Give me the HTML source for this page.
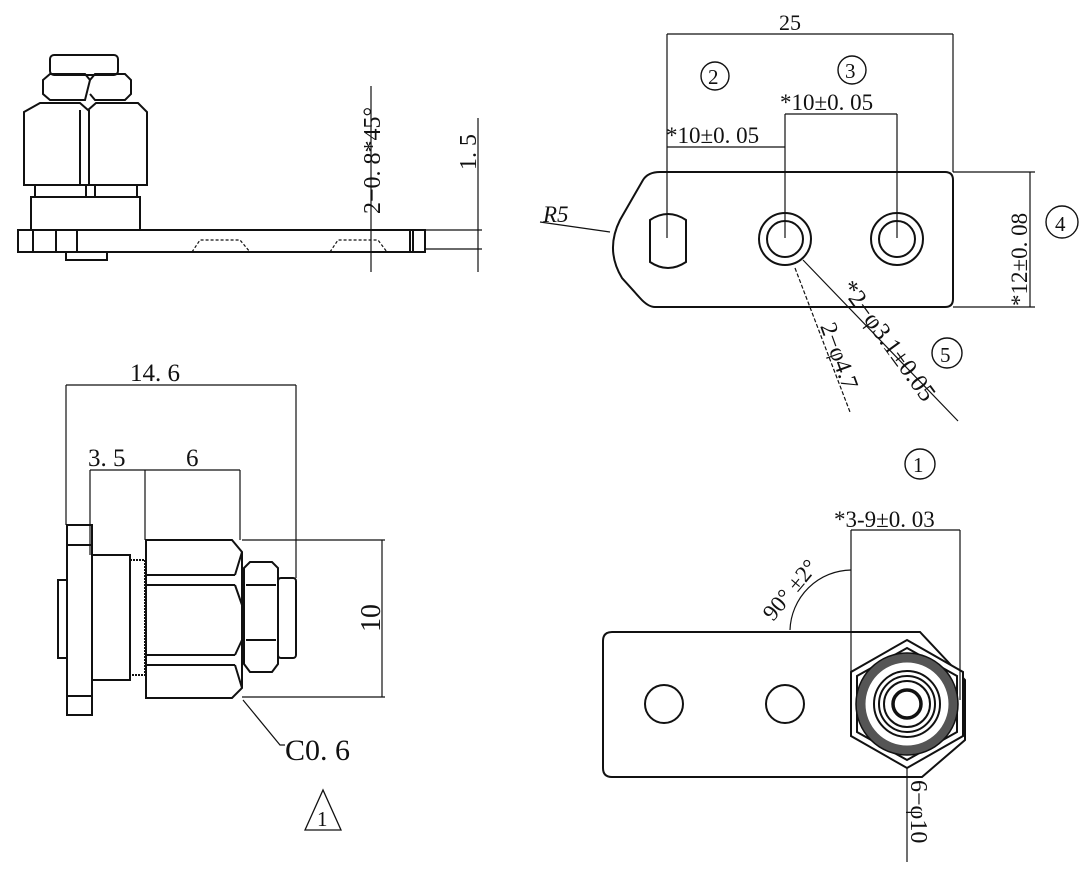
<!DOCTYPE html>
<html><head><meta charset="utf-8"><style>
html,body{margin:0;padding:0;background:#fff;}
svg{display:block}
text{font-family:"Liberation Serif","Noto Serif CJK SC",serif;fill:#111}
</style></head><body>
<svg width="1091" height="879" viewBox="0 0 1091 879" xmlns="http://www.w3.org/2000/svg">
<g fill="none" stroke="#111" stroke-width="2">
<!-- ===== Top-left side view ===== -->
<rect x="50" y="55" width="68" height="20" rx="4"/>
<path d="M43 80 L50 74 L85 74 L90 80 L85 100 L50 100 L43 94 Z"/>
<path d="M90 80 L95 74 L125 74 L131 80 L131 94 L125 100 L95 100 L90 94"/>
<path d="M24 112 L40 103 L80 103 L88 110 L96 103 L138 103 L147 112 L147 185 L24 185 Z"/>
<line x1="80" y1="110" x2="80" y2="185"/><line x1="89" y1="110" x2="89" y2="185"/>
<rect x="35" y="185" width="102" height="12"/>
<line x1="86" y1="185" x2="86" y2="197"/><line x1="95" y1="185" x2="95" y2="197"/>
<rect x="31" y="197" width="109" height="33"/>
<rect x="18" y="230" width="407" height="22"/>
<line x1="33" y1="230" x2="33" y2="252"/><line x1="56" y1="230" x2="56" y2="252"/><line x1="77" y1="230" x2="77" y2="252"/>
<line x1="410" y1="230" x2="410" y2="252"/><line x1="413" y1="230" x2="413" y2="252"/>
<rect x="66" y="252" width="41" height="8"/>
<path d="M192 252 L200 240 L240 240 L250 252" stroke-dasharray="3 2" stroke-width="1.2"/>
<path d="M330 252 L338 240 L378 240 L387 252" stroke-dasharray="3 2" stroke-width="1.2"/>
<g stroke-width="1.2">
<line x1="371" y1="86" x2="371" y2="272"/>
<line x1="478" y1="118" x2="478" y2="272"/>
<line x1="425" y1="230" x2="482" y2="230"/>
<line x1="425" y1="249" x2="482" y2="249"/>
</g>
<!-- ===== Bottom-left front view ===== -->
<rect x="67" y="525" width="25" height="190"/>
<line x1="67" y1="545" x2="92" y2="545"/><line x1="67" y1="696" x2="92" y2="696"/>
<rect x="58" y="580" width="9" height="78"/>
<rect x="92" y="555" width="38" height="125"/>
<rect x="130" y="560" width="15" height="115" stroke-dasharray="2 1"/>
<path d="M146 540 L232 540 L242 552 L242 688 L232 698 L146 698 Z"/>
<line x1="146" y1="575" x2="235" y2="575"/><line x1="146" y1="585" x2="235" y2="585"/>
<line x1="146" y1="655" x2="235" y2="655"/><line x1="146" y1="665" x2="235" y2="665"/>
<path d="M235 575 L242 552 M235 585 L242 605 M235 655 L242 640 M235 665 L242 688"/>
<path d="M244 568 L250 562 L272 562 L278 568 L278 664 L272 672 L250 672 L244 664 Z"/>
<line x1="246" y1="585" x2="276" y2="585"/><line x1="246" y1="640" x2="276" y2="640"/>
<rect x="278" y="578" width="18" height="80" rx="3"/>
<g stroke-width="1.2">
<line x1="66" y1="385" x2="296" y2="385"/>
<line x1="66" y1="385" x2="66" y2="525"/>
<line x1="296" y1="385" x2="296" y2="578"/>
<line x1="90" y1="470" x2="240" y2="470"/>
<line x1="90" y1="470" x2="90" y2="555"/>
<line x1="145" y1="470" x2="145" y2="540"/>
<line x1="240" y1="470" x2="240" y2="540"/>
<line x1="242" y1="540" x2="385" y2="540"/>
<line x1="242" y1="697" x2="385" y2="697"/>
<line x1="382" y1="540" x2="382" y2="697"/>
<path d="M243 700 L280 745 L285 745"/>
</g>
<path d="M305 830 L323 790 L341 830 Z" stroke-width="1.3"/>
<!-- ===== Top-right plate ===== -->
<path d="M660 172 L945 172 Q953 172 953 180 L953 299 Q953 307 945 307 L655 307 Q648 307 640 298 L622 278 Q605 250 620 220 L643 180 Q648 172 660 172 Z"/>
<path d="M650 220 Q668 208 686 220 L686 262 Q668 274 650 262 Z"/>
<circle cx="785" cy="239" r="26"/><circle cx="785" cy="239" r="18"/>
<circle cx="897" cy="239" r="26"/><circle cx="897" cy="239" r="18"/>
<g stroke-width="1.2">
<line x1="667" y1="34" x2="953" y2="34"/>
<line x1="667" y1="34" x2="667" y2="238"/>
<line x1="953" y1="34" x2="953" y2="172"/>
<line x1="785" y1="114" x2="897" y2="114"/>
<line x1="667" y1="147" x2="785" y2="147"/>
<line x1="785" y1="114" x2="785" y2="238"/>
<line x1="897" y1="114" x2="897" y2="238"/>
<line x1="953" y1="172" x2="1035" y2="172"/>
<line x1="953" y1="307" x2="1035" y2="307"/>
<line x1="1030" y1="172" x2="1030" y2="307"/>
<line x1="540" y1="222" x2="610" y2="232"/>
<line x1="803" y1="260" x2="958" y2="421"/>
<line x1="795" y1="268" x2="850" y2="412" stroke-dasharray="4 2"/>
</g>
<g stroke-width="1.4">
<circle cx="715" cy="76" r="14"/>
<circle cx="852" cy="70" r="14"/>
<circle cx="1062" cy="222" r="16"/>
<circle cx="947" cy="353" r="15"/>
<circle cx="920" cy="464" r="15"/>
</g>
<!-- ===== Bottom-right plate ===== -->
<path d="M612 632 L920 632 L965 680 L965 740 L922 777 L612 777 Q603 777 603 768 L603 641 Q603 632 612 632 Z"/>
<circle cx="664" cy="704" r="19"/>
<circle cx="785" cy="704" r="19"/>
<path d="M907 640 L963 672 L963 736 L907 768 L851 736 L851 672 Z" fill="#fff"/>
<path d="M907 648 L957 676 L957 732 L907 760 L857 732 L857 676 Z"/>
<circle cx="907" cy="704" r="46" stroke="#555" stroke-width="9" fill="none"/>
<circle cx="907" cy="704" r="51" stroke-width="1.5"/>
<circle cx="907" cy="704" r="33"/>
<circle cx="907" cy="704" r="28"/>
<circle cx="907" cy="704" r="23"/>
<circle cx="907" cy="704" r="14" stroke-width="3.5"/>
<g stroke-width="1.2">
<line x1="851" y1="530" x2="960" y2="530"/>
<line x1="851" y1="530" x2="851" y2="700"/>
<line x1="960" y1="530" x2="960" y2="700"/>
<path d="M790 630 A62 62 0 0 1 851 570"/>
<line x1="907" y1="768" x2="907" y2="862"/>
</g>
</g>
<!-- ===== Text ===== -->
<g font-size="24">
<text transform="translate(380,214) rotate(-90)">2−0. 8*45°</text>
<text transform="translate(476,170) rotate(-90)">1. 5</text>
<text x="130" y="381" font-size="25">14. 6</text>
<text x="88" y="466" font-size="25">3. 5</text>
<text x="186" y="466" font-size="25">6</text>
<text transform="translate(380,632) rotate(-90)" font-size="28">10</text>
<text x="285" y="760" font-size="30">C0. 6</text>
<text x="317" y="826" font-size="21">1</text>
<text x="779" y="30" font-size="22">25</text>
<text x="708" y="84" font-size="21">2</text>
<text x="845" y="78" font-size="21">3</text>
<text x="1055" y="231" font-size="21">4</text>
<text x="940" y="362" font-size="21">5</text>
<text x="913" y="472" font-size="21">1</text>
<text x="780" y="110" font-size="23">*10±0. 05</text>
<text x="666" y="143" font-size="23">*10±0. 05</text>
<text x="543" y="222" font-size="23" font-style="italic">R5</text>
<text transform="translate(1027,306) rotate(-90)" font-size="23">*12±0. 08</text>
<text transform="translate(840,288) rotate(54)" font-size="25">*2−φ3.1±0.05</text>
<text transform="translate(820,326) rotate(70)" font-size="24">2−φ4.7</text>
<text x="834" y="527" font-size="23">*3-9±0. 03</text>
<text transform="translate(773,622) rotate(-50)" font-size="23">90°  ±2°</text>
<text transform="translate(911,780) rotate(90)" font-size="24">6−φ10</text>
</g>
</svg>
</body></html>
